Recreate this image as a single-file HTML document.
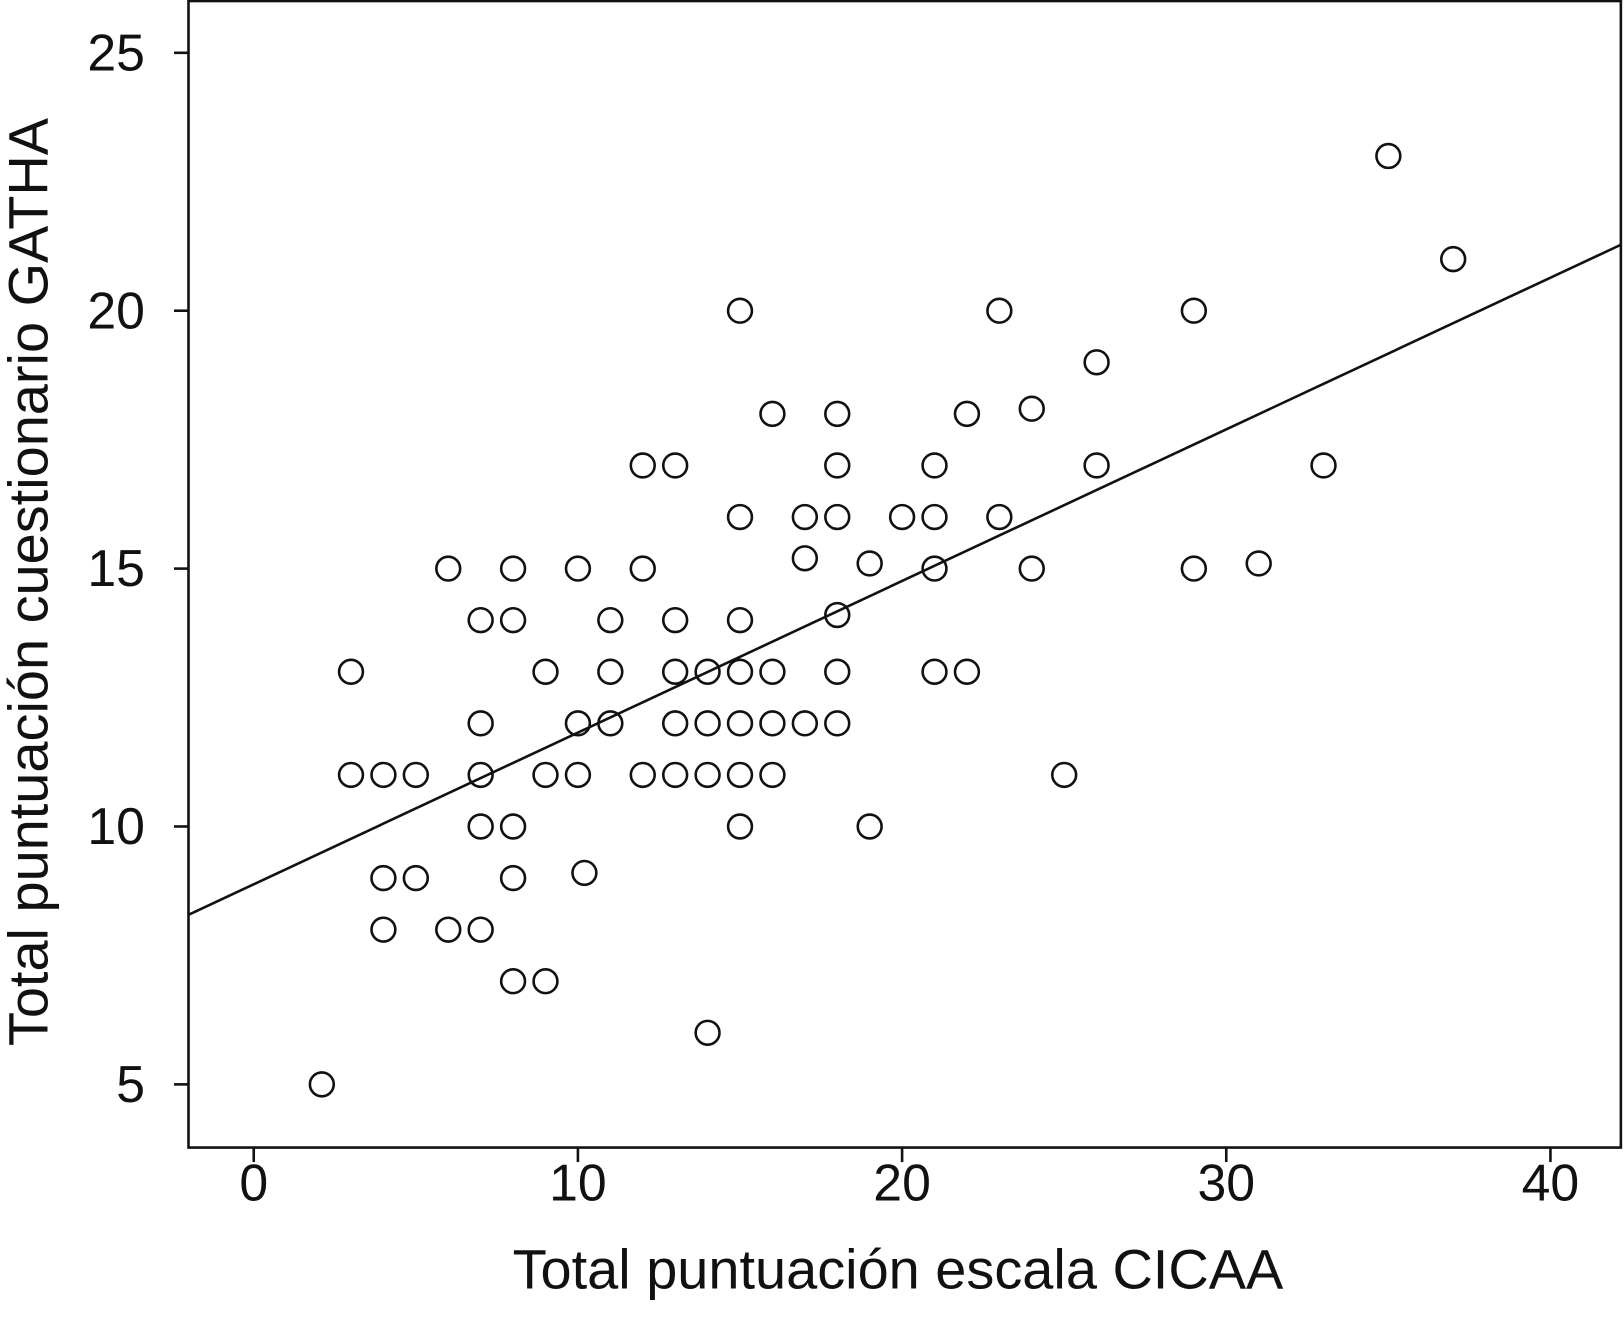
<!DOCTYPE html>
<html><head><meta charset="utf-8"><style>
html,body{margin:0;padding:0;background:#fff;}
svg text{font-family:"Liberation Sans",sans-serif;fill:#111;}
</style></head><body>
<svg id="chart" width="1624" height="1328" viewBox="0 0 1624 1328" xmlns="http://www.w3.org/2000/svg">
<g id="g" transform="scale(1.0357)"></g>
</svg>
<script>
const xTicks=[0,10,20,30,40];
const yTicks=[5,10,15,20,25];
const xs=[2.1,3,3,4,5,4,5,4,6,7,6,7,7,7,7,8,8,8,8,8,9,9,9,10,10,10,10.2,11,11,11,12,13,12,13,13,13,12,13,14,14,14,14,15,15,15,15,15,15,15,16,16,16,16,17,17,17,18,18,18,18,18,18,19,19,20,21,21,21,21,22,22,23,23,24,24,25,26,26,29,29,31,33,35,37];
const ys=[5,13,11,11,11,9,9,8,8,8,15,14,12,11,10,15,14,10,9,7,7,13,11,12,11,15,9.1,14,13,12,17,17,15,14,13,12,11,11,13,12,11,6,20,16,14,13,12,11,10,18,13,12,11,16,15.2,12,18,17,16,14.1,13,12,15.1,10,16,17,16,15,13,18,13,20,16,18.1,15,11,19,17,20,15,15.1,17,23,21];
const fitSlope=0.294, fitIntercept=8.88;
const X=v=>245+v*31.3;
const Y=v=>798-(v-10)*49.8;
const NS="http://www.w3.org/2000/svg";
const g=document.getElementById('g');
function mk(t,a){const e=document.createElementNS(NS,t);for(const k in a)e.setAttribute(k,a[k]);g.appendChild(e);return e;}
const L=182,R=1565,T=1,B=1108,xmin=(L-245)/31.3,xmax=(R-245)/31.3;
let e=mk('rect',{x:L,y:T,width:R-L,height:B-T,fill:'none',stroke:'#111','stroke-width':2.5});


xTicks.forEach(t=>{
 let l=mk('line',{x1:X(t),x2:X(t),y1:B,y2:B+14,stroke:'#111','stroke-width':2.5});
 
 
 let s=mk('text',{x:X(t),y:1159,'text-anchor':'middle','font-size':50});s.textContent=t;
 
 
});
yTicks.forEach(t=>{
 let l=mk('line',{x1:L-14,x2:L,y1:Y(t),y2:Y(t),stroke:'#111','stroke-width':2.5});
 
 
 let s=mk('text',{x:140,y:Y(t)+17,'text-anchor':'end','font-size':50});s.textContent=t;
 
 
});
let fl=mk('line',{x1:X(xmin),y1:Y(fitIntercept+fitSlope*xmin),x2:X(xmax),y2:Y(fitIntercept+fitSlope*xmax),stroke:'#111','stroke-width':2.5});


xs.forEach((v,i)=>{
 let c=mk('circle',{cx:X(v),cy:Y(ys[i]),r:11.5,fill:'none',stroke:'#111','stroke-width':2.5});
 
 
});
let xt=mk('text',{x:867,y:1244,'text-anchor':'middle','font-size':54});xt.textContent='Total puntuación escala CICAA';


let yt=mk('text',{x:0,y:0,'text-anchor':'middle','font-size':54,transform:'translate(46,562) rotate(-90)'});yt.textContent='Total puntuación cuestionario GATHA';


</script>
</body></html>
